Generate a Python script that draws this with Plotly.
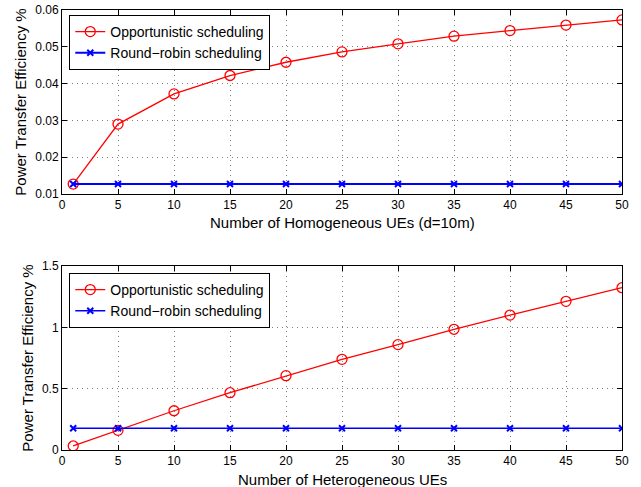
import plotly.graph_objects as go
from plotly.subplots import make_subplots

x_ues = [1, 5, 10, 15, 20, 25, 30, 35, 40, 45, 50]
homo_opportunistic = [0.0127, 0.0290, 0.0372, 0.0422, 0.0458, 0.0486, 0.0508, 0.0529, 0.0544, 0.0559, 0.0573]
homo_roundrobin = [0.0127] * 11
hetero_opportunistic = [0.033, 0.16, 0.32, 0.467, 0.606, 0.739, 0.859, 0.984, 1.10, 1.212, 1.323]
hetero_roundrobin = [0.177] * 11

x_ticks = [0, 5, 10, 15, 20, 25, 30, 35, 40, 45, 50]
top_yticks = [0.01, 0.02, 0.03, 0.04, 0.05, 0.06]
top_ytext = ["0.01", "0.02", "0.03", "0.04", "0.05", "0.06"]
bot_yticks = [0, 0.5, 1, 1.5]
bot_ytext = ["0", "0.5", "1", "1.5"]

FONT = "Liberation Sans, Arial, Helvetica, sans-serif"
RED = "#ff0000"
BLUE = "#0000ff"

fig = make_subplots(rows=2, cols=1)

fig.add_trace(go.Scatter(x=x_ues, y=homo_opportunistic, mode="lines+markers",
                         name="Opportunistic scheduling",
                         line=dict(color=RED, width=1.3),
                         marker=dict(symbol="circle-open", size=10, color=RED, line=dict(width=1.3)),
                         legend="legend"), row=1, col=1)
fig.add_trace(go.Scatter(x=x_ues, y=homo_roundrobin, mode="lines+markers",
                         name="Round\u2212robin scheduling",
                         line=dict(color=BLUE, width=2),
                         marker=dict(symbol="x-thin-open", size=6, color=BLUE, line=dict(width=2, color=BLUE)),
                         legend="legend"), row=1, col=1)
fig.add_trace(go.Scatter(x=x_ues, y=hetero_opportunistic, mode="lines+markers",
                         name="Opportunistic scheduling",
                         line=dict(color=RED, width=1.3),
                         marker=dict(symbol="circle-open", size=10, color=RED, line=dict(width=1.3)),
                         legend="legend2"), row=2, col=1)
fig.add_trace(go.Scatter(x=x_ues, y=hetero_roundrobin, mode="lines+markers",
                         name="Round\u2212robin scheduling",
                         line=dict(color=BLUE, width=1.5),
                         marker=dict(symbol="x-thin-open", size=6, color=BLUE, line=dict(width=2, color=BLUE)),
                         legend="legend2"), row=2, col=1)

common_axis = dict(showline=True, linecolor="black", linewidth=1, mirror="ticks",
                   ticks="inside", ticklen=5, tickcolor="black", automargin=False,
                   showgrid=True, gridcolor="#808080", griddash="1px,4px", gridwidth=1,
                   zeroline=False, tickfont=dict(family=FONT, size=12, color="black"))

TITLE_FONT = dict(family=FONT, size=15, color="black")
fig.update_xaxes(range=[0, 50], tickvals=x_ticks, **common_axis)
fig.update_xaxes(domain=[0, 1], row=1, col=1)
fig.update_xaxes(domain=[0, 1], row=2, col=1)
fig.update_yaxes(**common_axis)
fig.update_yaxes(row=1, col=1, domain=[0.5818, 1.0], range=[0.01, 0.06], tickvals=top_yticks, ticktext=top_ytext,
                 title=dict(text="Power Transfer Efficiency %", font=TITLE_FONT, standoff=4))
fig.update_yaxes(row=2, col=1, domain=[0.0, 0.4182], range=[0, 1.5], tickvals=bot_yticks, ticktext=bot_ytext,
                 title=dict(text="Power Transfer Efficiency %", font=TITLE_FONT, standoff=4))

fig.add_annotation(text="Number of Homogeneous UEs (d=10m)", xref="x domain", yref="y domain",
                   x=0.5, y=0, yshift=-28, showarrow=False, xanchor="center", yanchor="middle",
                   font=TITLE_FONT)
fig.add_annotation(text="Number of Heterogeneous UEs", xref="x2 domain", yref="y2 domain",
                   x=0.5, y=0, yshift=-29, showarrow=False, xanchor="center", yanchor="middle",
                   font=TITLE_FONT)

legend_style = dict(bgcolor="white", bordercolor="black", borderwidth=1,
                    font=dict(family=FONT, size=14, color="black"),
                    xanchor="left", yanchor="top", tracegroupgap=0, itemwidth=30)
fig.update_layout(
    width=641, height=487,
    margin=dict(l=62, r=19, t=10, b=37),
    paper_bgcolor="white", plot_bgcolor="white",
    font=dict(family=FONT, size=12, color="black"),
    legend=dict(x=0.013, y=0.9886, **legend_style),
    legend2=dict(x=0.013, y=0.4023, **legend_style),
)

fig.write_html("out.html", config={"displayModeBar": False},
               post_script="document.body.style.margin='0';")
